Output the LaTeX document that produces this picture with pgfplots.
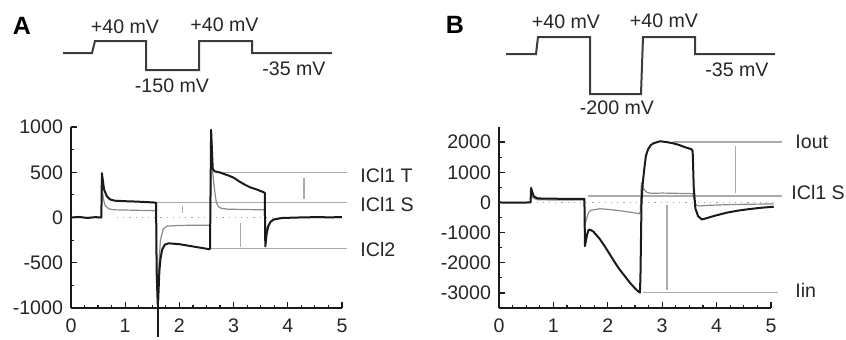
\documentclass[border=0pt]{standalone}
\usepackage{fontspec}
\setmainfont{Liberation Sans}
\usepackage{pgfplots}
\pgfplotsset{compat=1.18}

\definecolor{blk}{HTML}{1A1A1A}
\definecolor{gtr}{HTML}{8A8A8A}
\definecolor{refc}{HTML}{ABABAB}
\definecolor{txt}{HTML}{262626}
\newcommand{\fs}{\fontsize{9.8}{11.5}\selectfont}

\pgfplotsset{
  dax/.style={scale only axis, clip=false,
    axis x line*=bottom, axis y line*=left,
    axis line style={-, blk, line width=0.7pt},
    tick style={blk, line width=0.6pt},
    tick align=inside, major tick length=3pt, minor tick length=1.7pt,
    xmin=0, xmax=5, xtick={0,...,5}, minor x tick num=3,
    tick label style={font=\fs, color=txt},
    /pgf/number format/assume math mode=true,
    /pgf/number format/1000 sep={},
    xticklabel style={yshift=-2pt},
    yticklabel style={xshift=-0.5pt}},
  bk/.style={blk, line width=1pt, line join=round},
  gr/.style={gtr, line width=0.6pt, line join=round},
  rf/.style={refc, line width=0.6pt},
  dt/.style={gtr!80, line width=0.6pt, dash pattern=on 0.6pt off 2.5pt},
}

\begin{document}
\begin{tikzpicture}

% ---------- overlay: voltage protocols and labels (pixel coordinates) ----------
\begin{axis}[at={(0,0)}, anchor=south west, scale only axis,
  width=423pt, height=169.5pt, xmin=0, xmax=846, ymin=0, ymax=339,
  hide axis, clip=false]
\addplot[blk!85, line width=1pt, line join=miter] coordinates
  {(63,286) (92,286) (95,298) (146,298) (146,269) (199,269) (199,298) (252,298) (252,286) (332,286)};
\addplot[blk!85, line width=1pt, line join=miter] coordinates
  {(506,285) (536,285) (538,302) (590,302) (590,245) (641,245) (643,302) (695,302) (695,285) (775,285)};
\node[font=\bfseries\fontsize{12.5}{14}\selectfont, text=black] at (axis cs:22,313) {A};
\node[font=\bfseries\fontsize{12.5}{14}\selectfont, text=black] at (axis cs:455,314) {B};
\node[font=\fs, text=txt] at (axis cs:125,312.5) {+40 mV};
\node[font=\fs, text=txt] at (axis cs:224.5,314) {+40 mV};
\node[font=\fs, text=txt] at (axis cs:172,253) {-150 mV};
\node[font=\fs, text=txt] at (axis cs:294,270.5) {-35 mV};
\node[font=\fs, text=txt] at (axis cs:566,317) {+40 mV};
\node[font=\fs, text=txt] at (axis cs:664,318) {+40 mV};
\node[font=\fs, text=txt] at (axis cs:617,231.5) {-200 mV};
\node[font=\fs, text=txt] at (axis cs:737,269) {-35 mV};
\node[font=\fs, text=txt, anchor=west, inner sep=0pt] at (axis cs:360,164) {ICl1 T};
\node[font=\fs, text=txt, anchor=west, inner sep=0pt] at (axis cs:360,134.5) {ICl1 S};
\node[font=\fs, text=txt, anchor=west, inner sep=0pt] at (axis cs:360,90) {ICl2};
\node[font=\fs, text=txt, anchor=west, inner sep=0pt] at (axis cs:795,197.5) {Iout};
\node[font=\fs, text=txt, anchor=west, inner sep=0pt] at (axis cs:791,146.5) {ICl1 S};
\node[font=\fs, text=txt, anchor=west, inner sep=0pt] at (axis cs:795,49) {Iin};
\end{axis}

% ---------- Panel A ----------
\begin{axis}[dax, at={(35.5pt,15.5pt)}, anchor=south west,
  width=135.5pt, height=90.5pt,
  ymin=-1000, ymax=1000, ytick={-1000,-500,0,500,1000}, minor y tick num=1]
\addplot[dt] coordinates {(0.85,0) (5.0,0)};
\addplot[rf] coordinates {(2.7,500) (5.09,500)};
\addplot[rf] coordinates {(1.59,165) (5.09,165)};
\addplot[rf] coordinates {(2.55,-345) (5.09,-345)};
\addplot[rf] coordinates {(4.30,440) (4.30,200)};
\addplot[rf] coordinates {(2.05,125) (2.05,55)};
\addplot[rf] coordinates {(3.12,-57) (3.12,-323)};
% grey trace
\addplot[gr] coordinates {
 (0,0) (0.56,0) (0.57,330) (0.6,200) (0.63,130) (0.7,95) (0.8,85) (1.2,80) (1.55,75) (1.57,70)
 (1.58,-500) (1.60,-800) (1.62,-550) (1.65,-250) (1.70,-130) (1.77,-95) (2.0,-88) (2.3,-85) (2.55,-85) (2.57,-80)
 (2.58,700) (2.60,600) (2.63,400) (2.65,300) (2.68,170) (2.72,120) (2.78,100) (2.9,92) (3.2,88) (3.55,85) (3.57,80)
 (3.58,-250) (3.62,-100) (3.7,-30) (3.8,-10) (4.2,0) (5.0,0)};
% black trace
\addplot[bk] coordinates {
 (0,0) (0.15,6) (0.3,-5) (0.45,4) (0.56,0) (0.57,490) (0.61,309) (0.66,236) (0.72,200) (0.8,186) (1.0,180) (1.2,176) (1.4,170) (1.55,165) (1.57,162)
 (1.58,-600) (1.60,-960) (1.61,-900) (1.63,-600) (1.65,-460) (1.68,-360) (1.73,-300) (1.8,-285) (2.0,-295) (2.2,-315) (2.4,-335) (2.55,-350) (2.565,-345)
 (2.585,970) (2.60,750) (2.615,540) (2.65,510) (2.75,497) (2.9,465) (3.0,440) (3.1,400) (3.2,365) (3.3,335) (3.43,309) (3.55,280) (3.575,272)
 (3.585,-320) (3.61,-180) (3.64,-96) (3.68,-50) (3.74,-22) (3.9,-5) (4.2,0) (4.5,4) (4.8,2) (5.0,5)};
\addplot[blk, line width=1pt] coordinates {(1.60,-960) (1.60,-1320)};
\end{axis}

% ---------- Panel B ----------
\begin{axis}[dax, at={(249.5pt,15.5pt)}, anchor=south west,
  width=136pt, height=90.5pt,
  ymin=-3500, ymax=2500, ytick={-3000,-2000,...,2000}, minor y tick num=1]
\addplot[dt] coordinates {(0.69,0) (5.05,0)};
\addplot[rf] coordinates {(3.2,2000) (5.2,2000)};
\addplot[rf] coordinates {(1.64,210) (5.2,210)};
\addplot[rf] coordinates {(2.65,-2980) (5.12,-2980)};
\addplot[rf] coordinates {(4.35,1870) (4.35,300)};
\addplot[rf] coordinates {(3.09,-100) (3.09,-2890)};
% grey trace
\addplot[gr] coordinates {
 (0,0) (0.58,0) (0.59,300) (0.62,150) (0.7,90) (1.0,80) (1.57,80)
 (1.58,-800) (1.60,-600) (1.63,-420) (1.66,-300) (1.70,-256) (1.86,-210) (2.0,-230) (2.2,-270) (2.4,-320) (2.58,-376) (2.60,-300)
 (2.61,400) (2.62,650) (2.64,550) (2.67,420) (2.72,330) (2.8,300) (3.0,310) (3.3,300) (3.56,290)
 (3.58,150) (3.62,-80) (3.68,-120) (3.8,-100) (4.2,-75) (4.6,-60) (5.05,-50)};
% black trace
\addplot[bk] coordinates {
 (0,0) (0.15,-8) (0.3,-10) (0.45,-5) (0.58,0) (0.59,480) (0.61,350) (0.64,200) (0.7,140) (0.8,125) (1.2,120) (1.57,120)
 (1.58,-1450) (1.60,-1250) (1.62,-1063) (1.65,-900) (1.69,-920) (1.73,-960) (1.8,-1100) (1.86,-1230) (1.95,-1470) (2.04,-1730)
 (2.13,-1990) (2.22,-2230) (2.32,-2460) (2.41,-2670) (2.5,-2850) (2.56,-2950) (2.59,-2990)
 (2.60,-2500) (2.62,0) (2.64,600) (2.67,1100) (2.70,1540) (2.74,1760) (2.79,1900) (2.84,1960) (2.96,2027) (3.08,2000)
 (3.20,1960) (3.30,1910) (3.39,1850) (3.54,1760) (3.56,1700)
 (3.58,500) (3.61,-200) (3.66,-455) (3.73,-565) (3.8,-530) (3.94,-455) (4.18,-342) (4.4,-270) (4.55,-233) (4.8,-180) (5.05,-143)};
\end{axis}

\pgfresetboundingbox
\useasboundingbox (0,0) rectangle (423pt,169.5pt);
\end{tikzpicture}
\end{document}
